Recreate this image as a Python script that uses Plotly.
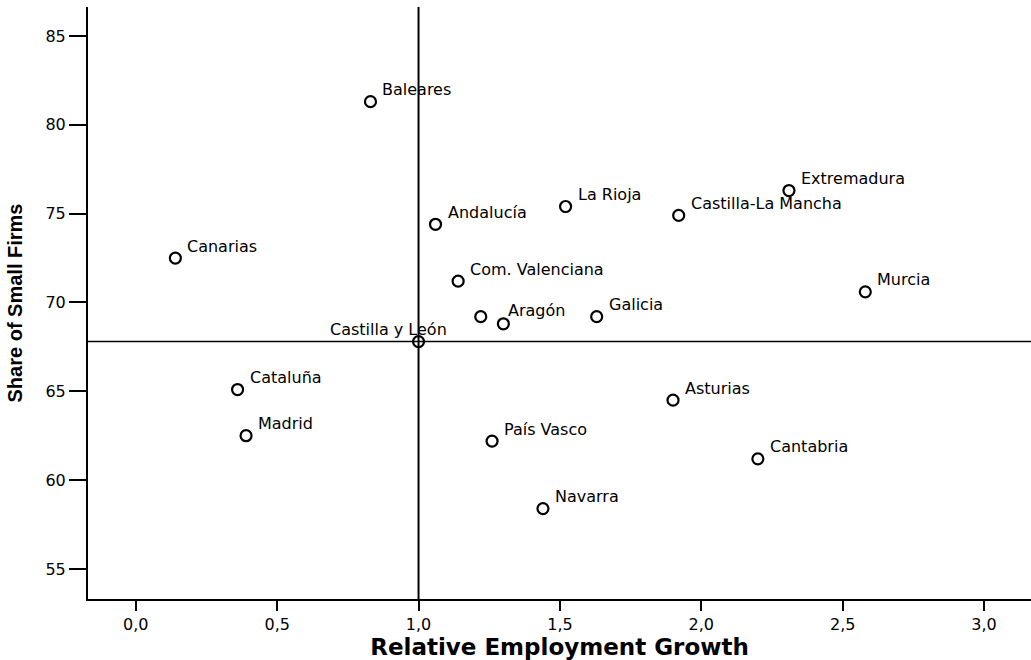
import plotly.graph_objects as go

regions = ["Baleares", "Canarias", "Andalucía", "La Rioja", "Castilla-La Mancha",
           "Extremadura", "Com. Valenciana", "Murcia", "Aragón", "", "Galicia",
           "Castilla y León", "Cataluña", "Madrid", "Asturias", "País Vasco",
           "Cantabria", "Navarra"]
employment_growth = [0.83, 0.14, 1.06, 1.52, 1.92, 2.31, 1.14, 2.58, 1.30, 1.22, 1.63,
                     1.00, 0.36, 0.39, 1.90, 1.26, 2.20, 1.44]
small_firm_share = [81.3, 72.5, 74.4, 75.4, 74.9, 76.3, 71.2, 70.6, 68.8, 69.2, 69.2,
                    67.8, 65.1, 62.5, 64.5, 62.2, 61.2, 58.4]
ref_x = 1.0
ref_y = 67.8

label_font = dict(family="DejaVu Sans", size=16, color="black")
default_shift = (10, 12)
special = {"Aragón": ("left", 3, 13), "Castilla y León": ("center", -30, 12)}

fig = go.Figure()
fig.add_trace(go.Scatter(
    x=employment_growth, y=small_firm_share, mode="markers",
    marker=dict(symbol="circle-open", size=11, color="black", line=dict(width=2.2, color="black")),
    hoverinfo="skip", showlegend=False,
))

for name, xv, yv in zip(regions, employment_growth, small_firm_share):
    if not name:
        continue
    anchor, dx, dy = special.get(name, ("left",) + default_shift)
    fig.add_annotation(x=xv, y=yv, text=name, showarrow=False, xanchor=anchor,
                       yanchor="middle", xshift=dx, yshift=dy, font=label_font)

fig.add_shape(type="line", xref="x", yref="paper", x0=ref_x, x1=ref_x, y0=0, y1=1,
              line=dict(color="black", width=2))
fig.add_shape(type="line", xref="paper", yref="y", x0=0, x1=1, y0=ref_y, y1=ref_y,
              line=dict(color="black", width=1.5))

fig.update_layout(
    width=1031, height=660,
    margin=dict(l=88, r=0, t=7, b=61),
    plot_bgcolor="white", paper_bgcolor="white",
    separators=",.",
    font=dict(family="DejaVu Sans", color="black"),
    xaxis=dict(range=[-0.169, 3.166], dtick=0.5, tick0=0, tickformat=".1f",
               automargin=False,
               showgrid=False, zeroline=False, showline=True, linecolor="black", linewidth=2,
               ticks="outside", ticklen=10, tickwidth=2, tickcolor="black",
               tickfont=dict(family="DejaVu Sans", size=16),
               title=dict(text="<b>Relative Employment Growth</b>", standoff=2,
                          font=dict(family="DejaVu Sans", size=23))),
    yaxis=dict(range=[53.31, 86.63], dtick=5, tick0=55,
               automargin=False,
               showgrid=False, zeroline=False, showline=True, linecolor="black", linewidth=2,
               ticks="outside", ticklen=17, tickwidth=1.5, tickcolor="black",
               tickfont=dict(family="DejaVu Sans", size=16),
               title=dict(text="<b>Share of Small Firms</b>", standoff=17,
                          font=dict(family="Liberation Sans", size=20))),
)

fig.write_html("out.html", config={"displayModeBar": False},
               post_script="document.body.style.margin='0';document.body.style.overflow='hidden';")
